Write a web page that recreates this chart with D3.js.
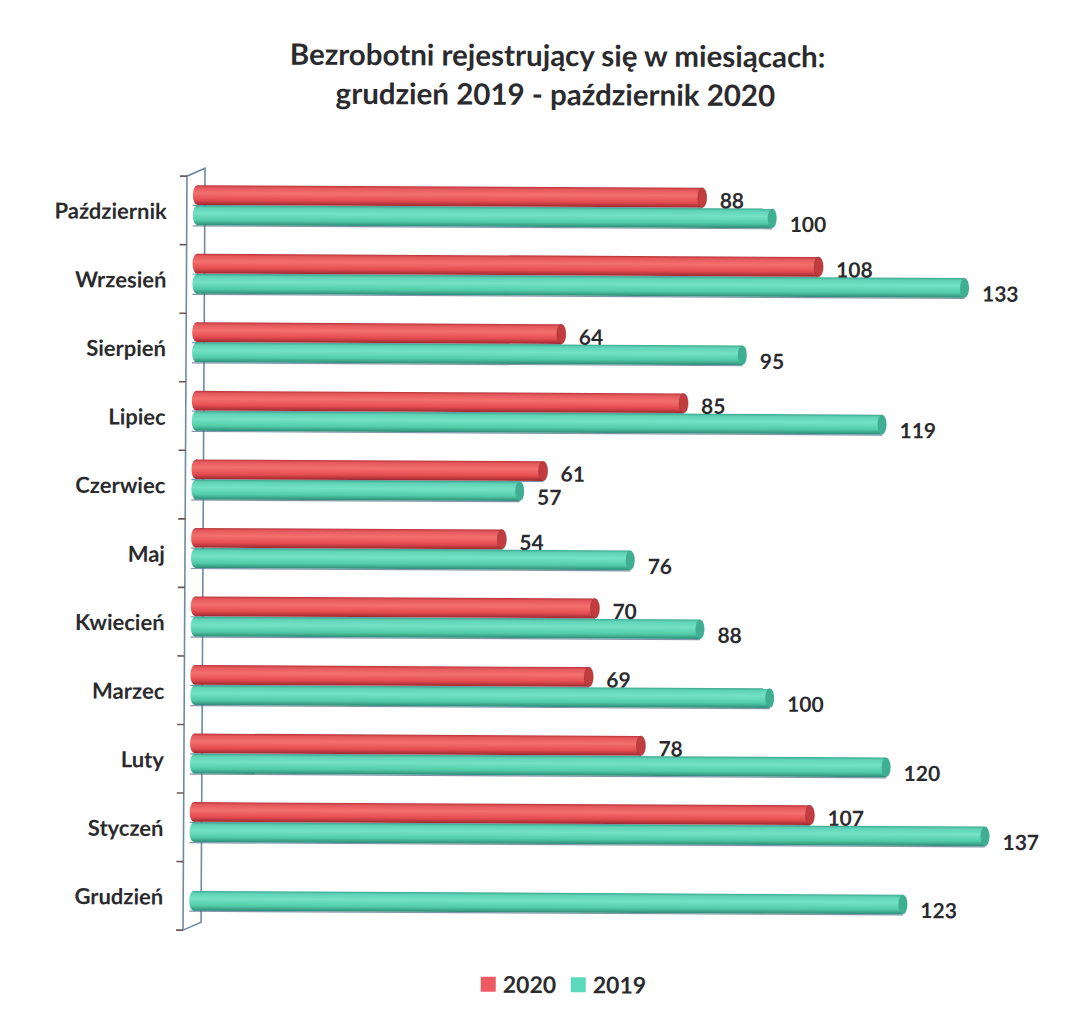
<!DOCTYPE html>
<html lang="pl">
<head>
<meta charset="utf-8">
<title>Bezrobotni rejestrujący się w miesiącach</title>
<script src="https://d3js.org/d3.v7.min.js"></script>
<style>
  body { margin: 0; background: #fff; }
  text { font-family: Lato, "Open Sans", sans-serif; font-weight: bold; fill: #2b2b2e; }
</style>
</head>
<body>
<div id="chart"></div>
<script>
// months, top to bottom as in the picture
var months = ["Październik", "Wrzesień", "Sierpień", "Lipiec", "Czerwiec", "Maj",
              "Kwiecień", "Marzec", "Luty", "Styczeń", "Grudzień"];
var values2020 = [88, 108, 64, 85, 61, 54, 70, 69, 78, 107, null];
var values2019 = [100, 133, 95, 119, 57, 76, 88, 100, 120, 137, 123];
var seriesNames = ["2020", "2019"];
var titleLines = ["Bezrobotni rejestrujący się w miesiącach:", "grudzień 2019 - październik 2020"];

var width = 1079, height = 1029;

var svg = d3.select("#chart").append("svg")
  .attr("width", width)
  .attr("height", height);

// cylinder gradients
var defs = svg.append("defs");
var grads = {
  "2020": [["0", "#b83438"], ["0.12", "#e4585c"], ["0.4", "#f4706e"], ["0.75", "#e44c50"], ["1", "#9c2a30"]],
  "2019": [["0", "#3aa890"], ["0.12", "#5fd2b6"], ["0.4", "#74e2c4"], ["0.75", "#52cca8"], ["1", "#2e8c78"]]
};
var caps = { "2020": "#c23c40", "2019": "#3fae92" };
Object.keys(grads).forEach(function (k) {
  var g = defs.append("linearGradient").attr("id", "cyl" + k)
    .attr("x1", 0).attr("y1", 0).attr("x2", 0).attr("y2", 1);
  grads[k].forEach(function (s) {
    g.append("stop").attr("offset", s[0]).attr("stop-color", s[1]);
  });
});

// whole scan is tilted a little
var root = svg.append("g").attr("transform", "rotate(0.3, 540, 554)");

// title
root.append("text")
  .attr("x", 555).attr("y", 66)
  .attr("text-anchor", "middle")
  .style("font-size", "29.5px")
  .text(titleLines[0]);
root.append("text")
  .attr("x", 553).attr("y", 105)
  .attr("text-anchor", "middle")
  .style("font-size", "29.5px")
  .text(titleLines[1]);

// scales
var y = d3.scaleBand()
  .domain(months)
  .range([178, 932]);

var ySub = d3.scaleBand()
  .domain(seriesNames)
  .range([9, 49])
  .paddingInner(0.03);

var x = d3.scaleLinear()
  .domain([0, 137])
  .range([191, 991]);

// 3D wall
var frontX = 185, backX = 203, depth = 8;
var wall = root.append("g").attr("stroke", "#6f8aa6").attr("stroke-width", 1.6).attr("fill", "none");
wall.append("path")
  .attr("d", "M" + frontX + "," + y.range()[1] + "V" + y.range()[0] +
             "L" + backX + "," + (y.range()[0] - depth) +
             "V" + (y.range()[1] - depth) +
             "L" + frontX + "," + y.range()[1]);

// ticks at band boundaries
var bounds = months.map(function (m) { return y(m); }).concat([y.range()[1]]);
root.append("g").selectAll("line")
  .data(bounds)
  .join("line")
  .attr("x1", frontX - 7).attr("x2", frontX)
  .attr("y1", function (d) { return d; })
  .attr("y2", function (d) { return d; })
  .attr("stroke", "#6f5a50")
  .attr("stroke-width", 1.6);

// category labels
var yAxis = root.append("g")
  .attr("transform", "translate(" + frontX + ",0)")
  .call(d3.axisLeft(y).tickSize(0).tickPadding(20));
yAxis.select(".domain").remove();
yAxis.selectAll("text")
  .style("font-size", "22px")
  .attr("dy", "0.4em");

// bars
var rows = [];
months.forEach(function (m, i) {
  rows.push({ month: m, series: "2020", value: values2020[i] });
  rows.push({ month: m, series: "2019", value: values2019[i] });
});
rows = rows.filter(function (d) { return d.value != null; });

function rowY(d) { return y(d.month) + ySub(d.series); }

var bar = root.append("g").selectAll("g")
  .data(rows)
  .join("g")
  .attr("transform", function (d) { return "translate(0," + rowY(d) + ")"; });

var bh = ySub.bandwidth();
var capR = 4.5;

// thin shadow under each bar
bar.append("line")
  .attr("x1", function (d) { return x(0); })
  .attr("x2", function (d) { return x(d.value) - capR; })
  .attr("y1", bh + 0.6).attr("y2", bh + 0.6)
  .attr("stroke", "#4a6a86")
  .attr("stroke-opacity", 0.7)
  .attr("stroke-width", 1.2);

bar.append("ellipse")
  .attr("cx", x(0) + capR)
  .attr("cy", bh / 2)
  .attr("rx", capR).attr("ry", bh / 2)
  .attr("fill", function (d) { return "url(#cyl" + d.series + ")"; });

bar.append("rect")
  .attr("x", x(0) + capR)
  .attr("y", 0)
  .attr("width", function (d) { return x(d.value) - x(0) - 2 * capR; })
  .attr("height", bh)
  .attr("fill", function (d) { return "url(#cyl" + d.series + ")"; });

bar.append("ellipse")
  .attr("cx", function (d) { return x(d.value) - capR; })
  .attr("cy", bh / 2)
  .attr("rx", capR).attr("ry", bh / 2)
  .attr("fill", function (d) { return caps[d.series]; })
  .attr("stroke", "#7a3030")
  .attr("stroke-opacity", function (d) { return d.series === "2020" ? 0.5 : 0; })
  .attr("stroke-width", 0.8);

// value labels, on top of all bars
root.append("g").selectAll("text")
  .data(rows)
  .join("text")
  .attr("x", function (d) { return x(d.value) + 13; })
  .attr("y", function (d) { return rowY(d) + bh / 2 + (d.series === "2020" ? 10.5 : 13.5); })
  .style("font-size", "21px")
  .text(function (d) { return d.value; });

// legend
var legend = root.append("g").attr("transform", "translate(483,977)");
var legendX = d3.scalePoint().domain(seriesNames).range([0, 90]);
var li = legend.selectAll("g")
  .data(seriesNames)
  .join("g")
  .attr("transform", function (d) { return "translate(" + legendX(d) + ",0)"; });
li.append("rect")
  .attr("width", 15).attr("height", 15)
  .attr("fill", function (d) { return d === "2020" ? "#ee5a62" : "#5cd8bc"; });
li.append("text")
  .attr("x", 22).attr("y", 16)
  .style("font-size", "23px")
  .text(function (d) { return d; });
</script>
</body>
</html>
